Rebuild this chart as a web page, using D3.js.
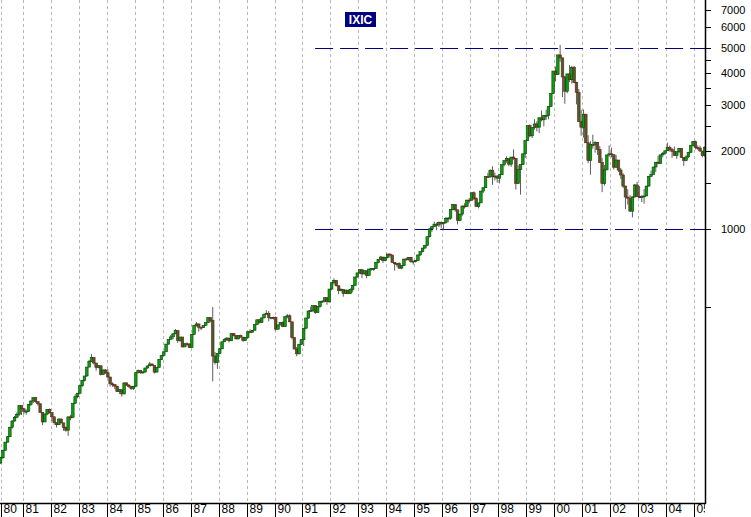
<!DOCTYPE html>
<html><head><meta charset="utf-8">
<script src="https://cdn.jsdelivr.net/npm/d3@7"></script>
<style>html,body{margin:0;padding:0;background:#fff;overflow:hidden}</style>
</head><body><svg id="c" width="751" height="517"></svg>
<script>
// ---------------- data ----------------
const title = "IXIC";
const firstYear = 1980, firstMonthIndex = 2; // March 1980
const firstOpen = 125.0;
const closes = [
/*1980*/ 131.00,139.99,150.45,157.78,171.81,181.52,187.76,192.78,208.15,202.34,
/*1981*/ 197.81,198.01,210.18,216.74,223.47,215.75,211.63,195.75,180.03,193.13,201.37,195.84,
/*1982*/ 188.39,178.96,175.65,184.70,178.54,171.30,167.35,188.33,187.65,212.63,225.28,232.41,
/*1983*/ 248.35,260.67,270.80,293.06,308.73,318.70,303.96,292.42,296.65,274.86,285.67,278.60,
/*1984*/ 268.43,252.57,250.78,247.44,235.73,239.65,230.95,254.64,249.94,247.03,242.53,247.35,
/*1985*/ 278.70,284.17,279.20,280.56,290.80,296.20,301.29,297.71,280.33,292.54,313.95,324.93,
/*1986*/ 335.77,359.53,374.72,383.24,394.16,405.51,371.37,382.86,350.67,360.77,359.57,348.83,
/*1987*/ 392.06,424.97,430.05,417.81,416.54,424.67,434.93,454.97,444.29,323.30,305.16,330.47,
/*1988*/ 344.66,366.95,374.64,379.23,370.34,394.66,387.33,376.55,387.71,382.46,371.45,381.38,
/*1989*/ 401.30,399.71,406.73,427.55,446.17,435.29,453.84,469.33,472.92,455.63,456.09,454.82,
/*1990*/ 410.72,425.83,435.54,420.07,458.97,462.29,438.24,381.21,344.51,329.84,359.06,373.84,
/*1991*/ 414.20,453.05,482.30,484.72,506.11,475.92,502.04,525.68,526.88,542.98,523.90,586.34,
/*1992*/ 620.21,633.47,603.77,578.68,585.31,563.60,580.83,563.12,583.27,605.17,652.73,676.95,
/*1993*/ 696.34,670.77,690.13,661.42,700.53,703.95,704.70,742.84,762.78,779.26,754.39,776.80,
/*1994*/ 800.47,792.50,743.46,733.84,735.19,705.96,722.16,765.62,764.29,777.49,750.32,751.96,
/*1995*/ 755.20,793.73,817.21,843.98,864.58,933.45,1001.21,1020.11,1043.54,1036.06,1059.20,1052.13,
/*1996*/ 1059.79,1100.05,1101.40,1190.52,1243.43,1185.02,1080.59,1141.50,1226.92,1221.51,1292.61,1291.03,
/*1997*/ 1379.85,1309.00,1221.70,1260.76,1400.32,1442.07,1593.81,1587.32,1685.69,1593.61,1600.55,1570.35,
/*1998*/ 1619.36,1770.51,1835.68,1868.41,1778.87,1894.74,1872.39,1499.25,1693.84,1771.39,1949.54,2192.69,
/*1999*/ 2505.89,2288.03,2461.40,2542.85,2470.52,2686.12,2638.49,2739.35,2746.16,2966.43,3336.16,4069.31,
/*2000*/ 3940.35,4696.69,4572.83,3860.66,3400.91,3966.11,3766.99,4206.35,3672.82,3369.63,2597.93,2470.52,
/*2001*/ 2772.73,2151.83,1840.26,2116.24,2110.49,2160.54,2027.13,1805.43,1498.80,1690.20,1930.58,1950.40,
/*2002*/ 1934.03,1731.49,1845.35,1688.23,1615.73,1463.21,1328.26,1314.85,1172.06,1329.75,1478.78,1335.51,
/*2003*/ 1320.91,1337.52,1341.17,1464.31,1595.91,1622.80,1735.02,1810.45,1786.94,1932.21,1960.26,2003.37,
/*2004*/ 2066.15,2029.82,1994.22,1920.15,1986.74,2047.79,1887.36,1838.10,1896.84,1974.99,2096.81,2175.44,
/*2005*/ 2062.41,2051.72,1999.23,1921.65,2068.22
];
const highs = [
/*1980*/ 132.0,140.5,150.8,158.9,172.0,182.5,190.0,196.0,208.2,208.0,
/*1981*/ 204.0,201.0,210.5,218.0,223.5,223.5,215.5,212.0,196.0,194.0,201.5,203.0,
/*1982*/ 196.0,189.0,179.0,186.0,186.0,178.5,173.0,188.5,192.0,213.0,230.0,233.0,
/*1983*/ 248.5,261.0,271.0,293.5,312.0,328.9,320.0,300.0,298.0,297.0,287.0,288.0,
/*1984*/ 287.9,268.0,256.0,251.0,248.0,241.0,240.0,256.0,256.0,252.0,248.0,248.0,
/*1985*/ 279.0,287.0,285.0,283.0,291.0,297.0,307.0,302.0,298.0,293.0,314.0,325.2,
/*1986*/ 336.0,360.0,375.0,390.0,394.5,411.2,405.0,383.0,383.0,361.0,365.0,362.0,
/*1987*/ 392.5,425.0,438.0,431.0,419.0,425.0,435.0,455.3,455.0,500.0,335.0,331.0,
/*1988*/ 347.0,367.0,379.0,382.0,380.0,395.0,396.0,389.0,389.0,391.0,383.0,382.0,
/*1989*/ 401.5,410.0,407.0,428.0,447.0,450.0,454.0,470.0,485.7,482.0,457.0,459.0,
/*1990*/ 460.0,428.0,437.0,440.0,459.0,470.3,469.0,437.0,382.0,350.0,360.0,375.0,
/*1991*/ 414.5,455.0,485.0,501.6,507.0,508.0,504.0,526.0,530.0,543.0,546.0,586.5,
/*1992*/ 622.0,644.9,636.0,605.0,590.0,585.0,582.0,581.0,590.0,606.0,653.0,677.0,
/*1993*/ 697.0,700.0,692.0,691.0,701.0,705.0,708.0,743.0,763.0,787.4,780.0,777.0,
/*1994*/ 800.5,803.9,797.0,745.0,736.0,743.0,723.0,766.0,775.0,779.0,779.0,753.0,
/*1995*/ 760.0,794.0,819.0,844.0,867.0,934.0,1005.9,1023.0,1067.4,1059.0,1069.8,1070.0,
/*1996*/ 1061.0,1112.0,1112.0,1191.0,1249.2,1245.0,1187.0,1144.0,1227.0,1258.0,1293.0,1316.0,
/*1997*/ 1380.0,1396.0,1326.0,1261.0,1401.0,1451.0,1594.0,1645.0,1697.0,1745.9,1650.0,1610.0,
/*1998*/ 1620.0,1771.0,1836.0,1907.0,1870.0,1895.0,2028.0,1875.0,1760.0,1772.0,1950.0,2193.0,
/*1999*/ 2506.0,2533.0,2463.0,2652.0,2601.0,2687.0,2864.0,2740.0,2887.0,2967.0,3337.0,4069.3,
/*2000*/ 4235.0,4697.0,5132.5,4580.0,3893.0,3975.0,4289.0,4260.0,4260.0,3700.0,3470.0,2880.0,
/*2001*/ 2892.0,2780.0,2300.0,2180.0,2313.0,2180.0,2160.0,2090.0,1880.0,1765.0,1932.0,2098.0,
/*2002*/ 2060.0,1935.0,1928.0,1845.0,1720.0,1640.0,1470.0,1423.0,1350.0,1335.0,1492.0,1521.0,
/*2003*/ 1467.0,1350.0,1425.0,1465.0,1596.0,1680.0,1736.0,1810.5,1916.0,1933.0,1980.0,2006.0,
/*2004*/ 2153.8,2100.0,2050.0,2080.0,1988.0,2050.0,2040.0,1890.0,1925.0,1985.0,2101.0,2185.0,
/*2005*/ 2191.0,2100.0,2095.0,2000.0,2080.0
];
const lows = [
/*1980*/ 124.1,129.5,139.5,150.0,157.5,169.5,180.5,186.0,190.0,191.5,
/*1981*/ 193.0,192.0,197.0,207.5,213.0,213.5,208.0,195.5,175.0,180.0,191.0,194.0,
/*1982*/ 181.5,175.5,171.5,175.5,177.5,166.5,165.0,159.1,182.5,186.0,211.0,222.0,
/*1983*/ 230.0,245.0,258.0,269.0,293.0,306.0,300.0,284.0,290.0,272.0,274.0,276.0,
/*1984*/ 266.0,247.0,246.0,241.0,235.0,231.0,225.3,230.0,248.0,244.0,239.0,239.0,
/*1985*/ 245.0,277.0,276.0,277.0,279.0,289.0,296.0,296.0,276.6,280.0,292.0,312.0,
/*1986*/ 323.0,335.0,358.0,375.0,375.0,392.0,363.0,367.0,349.0,350.0,354.0,347.0,
/*1987*/ 348.0,391.0,420.0,402.0,407.0,415.0,423.0,433.0,436.0,258.0,300.0,288.5,
/*1988*/ 330.0,344.0,366.0,370.0,365.0,370.0,385.0,375.0,375.0,381.0,367.0,369.0,
/*1989*/ 377.0,398.0,398.0,406.0,426.0,432.0,434.0,452.0,468.0,440.0,448.0,447.0,
/*1990*/ 405.0,408.0,425.0,418.0,419.0,452.0,437.0,375.0,342.0,322.9,328.0,357.0,
/*1991*/ 353.0,410.0,450.0,480.0,478.0,470.0,476.0,497.0,519.0,521.0,510.0,519.0,
/*1992*/ 580.0,612.0,600.0,560.0,575.0,547.8,562.0,560.0,562.0,570.0,604.0,650.0,
/*1993*/ 671.0,645.9,667.0,645.0,660.0,690.0,690.0,703.0,737.0,760.0,739.0,750.0,
/*1994*/ 770.0,775.0,740.0,691.0,715.0,703.0,699.0,720.0,758.0,755.0,740.0,729.0,
/*1995*/ 743.0,754.0,788.0,812.0,838.0,860.0,927.0,975.0,1017.0,990.0,1018.0,1005.0,
/*1996*/ 988.6,1047.0,1060.0,1085.0,1180.0,1165.0,1042.0,1070.0,1120.0,1198.0,1218.0,1255.0,
/*1997*/ 1290.0,1294.0,1218.0,1201.0,1260.0,1375.0,1445.0,1577.0,1580.0,1480.0,1540.0,1510.0,
/*1998*/ 1500.0,1620.0,1745.0,1800.0,1746.0,1738.0,1850.0,1419.1,1490.0,1357.1,1770.0,1880.0,
/*1999*/ 2190.0,2260.0,2245.0,2415.0,2380.0,2345.0,2600.0,2490.0,2640.0,2650.0,2960.0,3330.0,
/*2000*/ 3711.0,3950.0,4420.0,3227.0,3042.7,3340.0,3690.0,3640.0,3650.0,3026.0,2596.0,2288.0,
/*2001*/ 2250.0,2150.0,1794.0,1619.6,2040.0,1970.0,1930.0,1800.0,1387.1,1470.0,1690.0,1900.0,
/*2002*/ 1890.0,1696.0,1720.0,1660.0,1560.0,1440.0,1192.0,1241.0,1163.0,1108.5,1320.0,1330.0,
/*2003*/ 1315.0,1271.0,1253.0,1341.0,1455.0,1590.0,1630.0,1657.0,1780.0,1787.0,1890.0,1935.0,
/*2004*/ 2000.0,1990.0,1880.0,1918.0,1865.0,1960.0,1883.0,1750.8,1825.0,1880.0,1970.0,2080.0,
/*2005*/ 2030.0,2020.0,1986.0,1889.8,1900.0
];
const yearTicks = d3.range(1980, 2006);          // 1980 … 2005
const yTickValues = [500,1000,1500,2000,2500,3000,3500,4000,4500,5000,6000,7000];
const yLabelValues = [1000,2000,3000,4000,5000,6000,7000];
const refLevels = [5000, 1000];
const refStartYear = 1991.45;

// ---------------- layout ----------------
const W = 751, H = 517;
const plotR = 705, plotB = 503;
const svg = d3.select("#c");

const x = d3.scaleLinear().domain([1980.189, 2005.385]).range([0, plotR]);
const y = d3.scaleLog().domain([87.6, 7650]).range([plotB, 0]);

svg.append("defs").append("clipPath").attr("id","plot")
  .append("rect").attr("x",0).attr("y",0).attr("width",plotR).attr("height",plotB);
svg.select("defs").append("clipPath").attr("id","lab")
  .append("rect").attr("x",0).attr("y",plotB).attr("width",plotR).attr("height",H-plotB);

// vertical year grid
svg.append("g").selectAll("line").data(yearTicks).join("line")
  .attr("x1", d => Math.max(1.5, Math.round(x(d))+0.5))
  .attr("x2", d => Math.max(1.5, Math.round(x(d))+0.5))
  .attr("y1", 0).attr("y2", plotB)
  .attr("stroke", "#b8b8b8").attr("stroke-width", 1).attr("stroke-dasharray", "3,3");

// reference levels
svg.append("g").selectAll("line").data(refLevels).join("line")
  .attr("x1", x(refStartYear)).attr("x2", plotR)
  .attr("y1", d => Math.round(y(d))+0.5).attr("y2", d => Math.round(y(d))+0.5)
  .attr("stroke", "#000080").attr("stroke-width", 1.2).attr("stroke-dasharray", "18,7");

// candles
const bars = closes.map((c, i) => {
  const m = firstMonthIndex + i;
  const t = firstYear + (m + 0.5) / 12;
  const o = i === 0 ? firstOpen : closes[i-1];
  return {t, o, c, h: highs[i], l: lows[i]};
});
const gC = svg.append("g").attr("clip-path","url(#plot)");
gC.selectAll("line").data(bars).join("line")
  .attr("x1", d => x(d.t)).attr("x2", d => x(d.t))
  .attr("y1", d => y(d.h)).attr("y2", d => y(d.l))
  .attr("stroke", "#333").attr("stroke-width", 0.8);
gC.selectAll("rect").data(bars).join("rect")
  .attr("x", d => x(d.t) - 1.3).attr("width", 2.6)
  .attr("y", d => y(Math.max(d.o, d.c)))
  .attr("height", d => Math.max(1, Math.abs(y(d.o) - y(d.c))))
  .attr("fill", d => d.c >= d.o ? "#0aa00a" : "#2f6a2f")
  .attr("stroke", d => d.c >= d.o ? "#0b3d0b" : "#8a1010").attr("stroke-width", 0.6);

// right axis
const gR = svg.append("g");
gR.append("line").attr("x1", plotR+0.5).attr("x2", plotR+0.5).attr("y1", 0).attr("y2", plotB+1)
  .attr("stroke", "#000").attr("stroke-width", 1.5);
gR.selectAll("line.t").data(yTickValues).join("line").attr("class","t")
  .attr("x1", plotR).attr("x2", plotR+6)
  .attr("y1", d => Math.round(y(d))+0.5).attr("y2", d => Math.round(y(d))+0.5)
  .attr("stroke", "#000").attr("stroke-width", 1);
gR.selectAll("text").data(yLabelValues).join("text")
  .attr("x", 721).attr("y", d => y(d) + 4)
  .attr("font-family", "Liberation Sans, Arial, sans-serif").attr("font-size", 11)
  .attr("fill", "#000").text(d => d);

// bottom axis
const gB = svg.append("g");
gB.append("line").attr("x1", 0).attr("x2", plotR+1).attr("y1", plotB+0.5).attr("y2", plotB+0.5)
  .attr("stroke", "#000").attr("stroke-width", 1.5);
const gL = gB.append("g").attr("clip-path","url(#lab)");
gL.selectAll("line").data(yearTicks).join("line")
  .attr("x1", d => Math.max(1.5, Math.round(x(d))+0.5)).attr("x2", d => Math.max(1.5, Math.round(x(d))+0.5))
  .attr("y1", plotB).attr("y2", H)
  .attr("stroke", "#000").attr("stroke-width", 1);
gL.selectAll("text").data(yearTicks).join("text")
  .attr("x", d => Math.max(1.5, Math.round(x(d))+0.5) + 2)
  .attr("y", 513)
  .attr("font-family", "Liberation Sans, Arial, sans-serif").attr("font-size", 12)
  .attr("fill", "#000").text(d => String(d).slice(2));

// title box
const tg = svg.append("g");
tg.append("rect").attr("x", 345).attr("y", 12).attr("width", 31).attr("height", 15).attr("fill", "#000080");
tg.append("text").attr("x", 360.5).attr("y", 24).attr("text-anchor","middle")
  .attr("font-family", "Liberation Sans, Arial, sans-serif").attr("font-size", 12).attr("font-weight","bold")
  .attr("fill", "#fff").text(title);
</script></body></html>
